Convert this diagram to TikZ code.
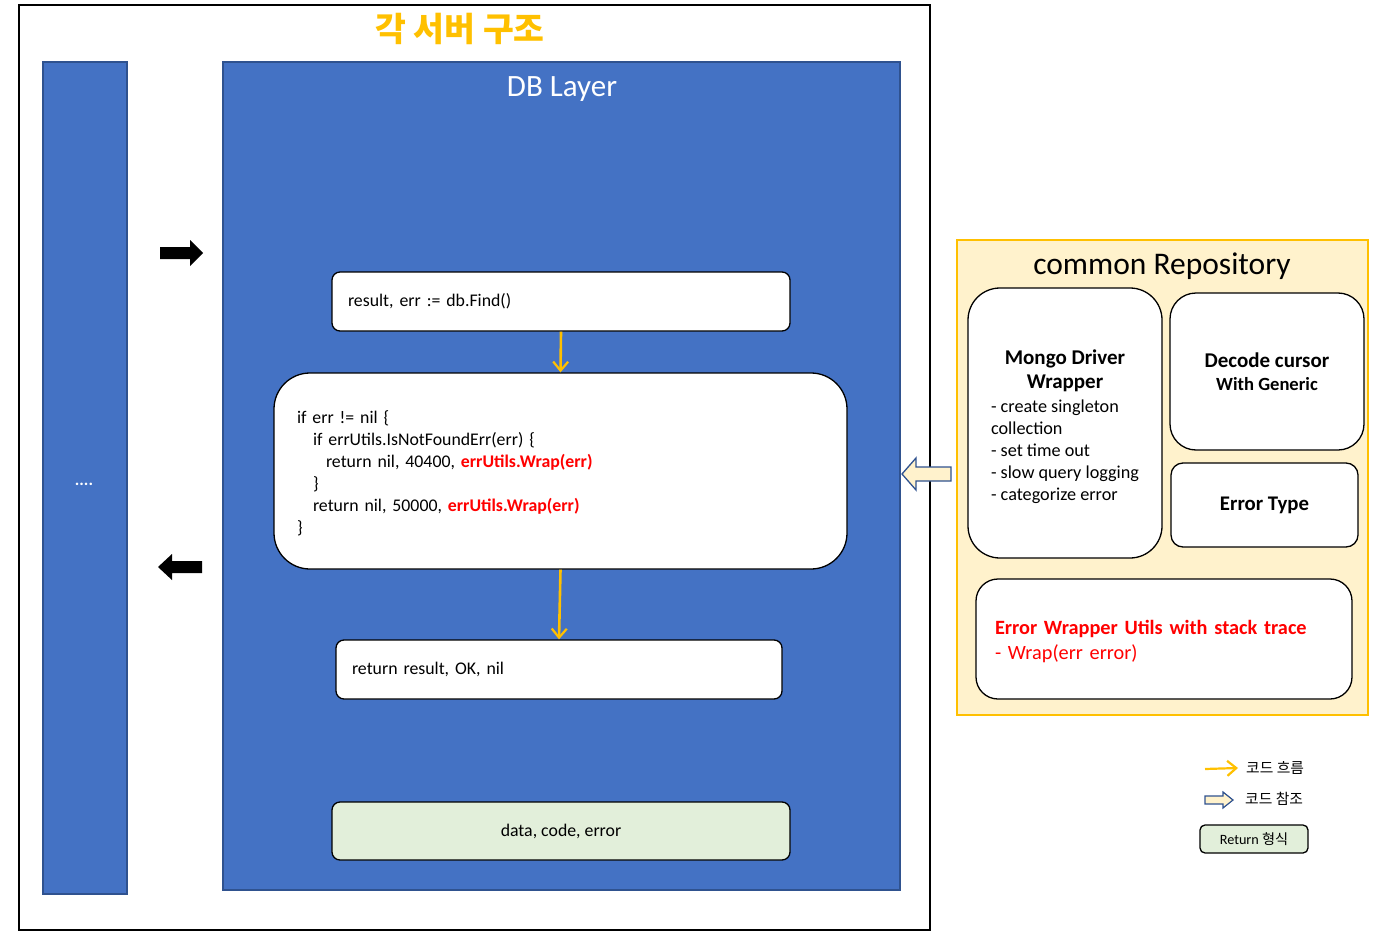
\documentclass[tikz,border=0pt]{standalone}
\usepackage{fontspec}
\setmainfont{Carlito}
\newfontfamily\kr{Noto Sans CJK KR}
\usepackage{tikz}
\usetikzlibrary{arrows.meta,positioning}
\definecolor{layerc}{HTML}{4472C4}
\definecolor{edgec}{HTML}{2F528F}
\definecolor{goldc}{HTML}{FFC000}
\definecolor{cremec}{HTML}{FFF2CC}
\definecolor{mintc}{HTML}{E2EFDA}
\definecolor{errc}{HTML}{FF0000}
\tikzset{
  flow/.style={-{Straight Barb[length=9pt,width=15pt,line width=2.2pt]},goldc,line width=2.6pt},
  codebox/.style={draw=black,line width=1.3pt,fill=white,inner sep=0pt,font=\fontsize{17.8}{22}\selectfont},
  repobox/.style={draw=black,line width=1.3pt,fill=white,inner sep=0pt,rounded corners=26pt,align=center},
  layer/.style={fill=layerc,draw=edgec,line width=1.3pt},
  refar/.style={fill=cremec,draw=edgec,line width=1.3pt,line join=miter}
}
\begin{document}
\begin{tikzpicture}[x=1pt,y=-1pt]
\useasboundingbox (0,0) rectangle (1389,936);
% frame of one server
\draw[line width=2pt] (19,5) rectangle (930,930);
\node[font=\kr\bfseries\fontsize{33.5}{36}\selectfont,text=goldc] (title) at (460,29) {각 서버 구조};
\draw[layer] (43,62) rectangle (127,894);
\node[white,font=\bfseries\fontsize{17}{18}\selectfont] (dots) at (84,484) {....};
% request / response
\fill (160,247)--(190,247)--(190,240)--(203,253)--(190,266)--(190,259)--(160,259)--cycle;
\fill (202,561)--(172,561)--(172,554)--(158,567)--(172,580)--(172,573)--(202,573)--cycle;
% db layer
\draw[layer] (223,62) rectangle (900,890);
\node[white,font=\fontsize{31}{33}\selectfont] (dbl) at (562,89) {DB Layer};
\node[codebox,rounded corners=8pt,minimum width=458,minimum height=59,text width=426,align=left] (find) at (561,301.5) {result, err := db.Find()};
\node[codebox,rounded corners=36pt,minimum width=573,minimum height=196,text width=527,align=left] (check) at (560.5,471) {\rule{0pt}{17pt}if err != nil \{\\
\hspace*{16pt}if errUtils.IsNotFoundErr(err) \{\\
\hspace*{29pt}return nil, 40400, \textcolor{errc}{\bfseries errUtils.Wrap(err)}\\
\hspace*{16pt}\}\\
\hspace*{16pt}return nil, 50000, \textcolor{errc}{\bfseries errUtils.Wrap(err)}\\
\}};
\node[codebox,rounded corners=8pt,minimum width=446,minimum height=59,text width=414,align=left] (ok) at (559,669.5) {return result, OK, nil};
\node[codebox,rounded corners=8pt,fill=mintc,minimum width=458,minimum height=58,align=center] (ret) at (561,831) {data, code, error};
\draw[flow] (find.south) -- (check.north);
\draw[flow] (check.south) -- (ok.north);
% common repository
\draw[fill=cremec,draw=goldc,line width=1.6pt] (957,240) rectangle (1368,715);
\node[font=\fontsize{31.5}{33}\selectfont] (repo) at (1162,266) {common Repository};
\node[repobox,rounded corners=32pt,minimum width=194,minimum height=270,font=\fontsize{21}{24}\selectfont\bfseries] (mongo) at (1065,423) {\rule{0pt}{25pt}Mongo Driver\\
Wrapper\\
{\fontsize{18.2}{22}\selectfont\mdseries\begin{tabular}[t]{@{}l@{}}- create singleton\\ collection\\ - set time out\\ - slow query logging\\ - categorize error\end{tabular}}};
\node[repobox,minimum width=194,minimum height=157,font=\fontsize{21}{23}\selectfont\bfseries] (decode) at (1267,371.5) {Decode cursor\\
{\fontsize{18.6}{23}\selectfont With Generic}};
\node[repobox,rounded corners=12pt,minimum width=187,minimum height=84,font=\fontsize{20.8}{24}\selectfont\bfseries] (etype) at (1264.5,505) {Error Type};
\node[repobox,rounded corners=22pt,minimum width=376,minimum height=120,text width=338,align=left,text=errc,font=\fontsize{20.3}{25}\selectfont] (wrap) at (1164,639) {\rule{0pt}{20pt}{\bfseries Error Wrapper Utils with stack trace}\\
- Wrap(err error)};
\draw[refar] (951,467)--(916,467)--(916,458)--(902,474)--(916,490)--(916,481)--(951,481)--cycle;
% legend
\coordinate (lf) at (1205,769);
\node[anchor=west,inner xsep=8pt,font=\kr\fontsize{14.8}{16}\selectfont] (lflow) at (1238,768) {코드 흐름};
\draw[flow,line width=2.2pt] (lf) -- (lflow.west);
\draw[refar,line width=1.2pt] (1205,796)--(1223,796)--(1223,792)--(1233,800)--(1223,808)--(1223,804)--(1205,804)--cycle;
\node[anchor=west,inner xsep=0pt,font=\kr\fontsize{14.8}{16}\selectfont] (lref) at (1245,799) {코드 참조};
\node[draw=black,line width=1.3pt,rounded corners=5pt,fill=mintc,minimum width=108,minimum height=28,font=\fontsize{14.2}{16}\selectfont] (lret) at (1254,839) {Return {\kr 형식}};
\end{tikzpicture}
\end{document}
